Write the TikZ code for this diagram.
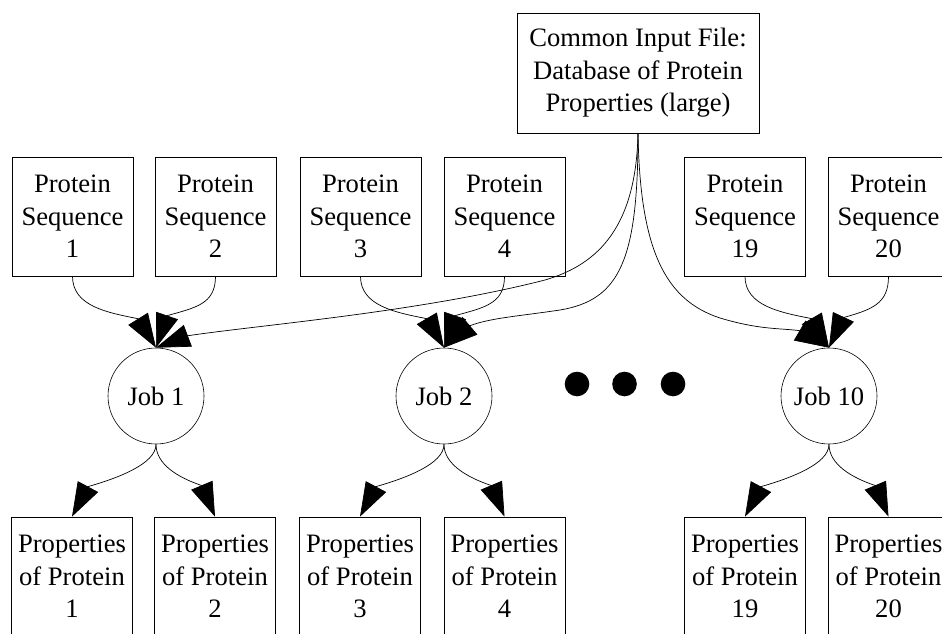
\documentclass[tikz,border=0pt]{standalone}
\usepackage{fontspec}
\setmainfont{Liberation Serif}
\usetikzlibrary{arrows.meta,calc}
\begin{document}
\begin{tikzpicture}[x=1pt,y=-1pt,
  txt/.style={font=\fontsize{26.6}{32.5}\selectfont, align=center},
  databox/.style={txt, draw, line width=0.8pt, minimum width=121pt, minimum height=119pt, inner sep=0pt},
  jobnode/.style={txt, draw, circle, line width=0.6pt, minimum size=96pt, inner sep=0pt},
  flow/.style={line width=0.7pt, -{Triangle[length=34pt,width=23pt]}},
  bigdot/.style={fill, circle, minimum size=24.6pt, inner sep=0pt}
]
\clip (0,0) rectangle (942,634);
\fill[white] (0,0) rectangle (942,634);

% common input
\node[databox, minimum width=242pt, minimum height=120pt] (common) at (638,73)
  {Common Input File:\\Database of Protein\\Properties (large)};

% protein sequences
\node[databox] (s1)  at (72.5,216.5) {Protein\\Sequence\\1};
\node[databox] (s2)  at (215.5,216.5) {Protein\\Sequence\\2};
\node[databox] (s3)  at (360.5,216.5) {Protein\\Sequence\\3};
\node[databox] (s4)  at (504.5,216.5) {Protein\\Sequence\\4};
\node[databox] (s19) at (745,216.5) {Protein\\Sequence\\19};
\node[databox] (s20) at (888.5,216.5) {Protein\\Sequence\\20};

% jobs
\node[jobnode] (j1)  at (156,396) {Job 1};
\node[jobnode] (j2)  at (444,396) {Job 2};
\node[jobnode] (j10) at (829,396) {Job 10};

% ellipsis dots
\node[bigdot] (d1) at (577,384) {};
\node[bigdot] (d2) at (624.5,384) {};
\node[bigdot] (d3) at (673,384) {};

% outputs
\node[databox] (p1)  at (72,576.5) {Properties\\of Protein\\1};
\node[databox] (p2)  at (215,576.5) {Properties\\of Protein\\2};
\node[databox] (p3)  at (360,576.5) {Properties\\of Protein\\3};
\node[databox] (p4)  at (504.5,576.5) {Properties\\of Protein\\4};
\node[databox] (p19) at (745,576.5) {Properties\\of Protein\\19};
\node[databox] (p20) at (888.5,576.5) {Properties\\of Protein\\20};

% sequences -> jobs
\draw[flow] (s1.south) .. controls +(0,30) and +(-30,-6) .. ($(j1.north)+(-18,-29)$) -- (j1.north);
\draw[flow] (s2.south) .. controls +(0,28) and +(28,-8) .. ($(j1.north)+(11,-32)$) -- (j1.north);
\draw[flow] (s3.south) .. controls +(0,30) and +(-30,-6) .. ($(j2.north)+(-17,-29)$) -- (j2.north);
\draw[flow] (s4.south) .. controls +(0,28) and +(28,-8) .. ($(j2.north)+(11,-32)$) -- (j2.north);
\draw[flow] (s19.south) .. controls +(0,30) and +(-30,-6) .. ($(j10.north)+(-17,-29)$) -- (j10.north);
\draw[flow] (s20.south) .. controls +(0,28) and +(28,-8) .. ($(j10.north)+(14,-30)$) -- (j10.north);

% common -> jobs
\draw[flow] (common.south) .. controls (636,225) and (600,264) .. (545,280)
  .. controls (420,312) and (260,325) .. ($(j1.north)+(32,-12)$) -- (j1.north);
\draw[flow] (common.south) .. controls (638,260) and (620,300) .. (560,310)
  .. controls (520,316) and (490,318) .. ($(j2.north)+(26,-22)$) -- (j2.north);
\draw[flow] (common.south) .. controls (640,250) and (665,300) .. (720,318)
  .. controls (760,330) and (780,328) .. ($(j10.north)+(-29,-17)$) -- (j10.north);

% jobs -> outputs
\draw[flow] (j1.south) .. controls +(0,20) and +(28,-8) .. ($(p1.north)+(16,-30)$) -- (p1.north);
\draw[flow] (j1.south) .. controls +(0,20) and +(-24,-8) .. ($(p2.north)+(-13,-31)$) -- (p2.north);
\draw[flow] (j2.south) .. controls +(0,20) and +(28,-8) .. ($(p3.north)+(16,-30)$) -- (p3.north);
\draw[flow] (j2.south) .. controls +(0,20) and +(-24,-8) .. ($(p4.north)+(-13,-31)$) -- (p4.north);
\draw[flow] (j10.south) .. controls +(0,20) and +(28,-8) .. ($(p19.north)+(16,-30)$) -- (p19.north);
\draw[flow] (j10.south) .. controls +(0,20) and +(-24,-8) .. ($(p20.north)+(-13,-31)$) -- (p20.north);
\end{tikzpicture}
\end{document}
